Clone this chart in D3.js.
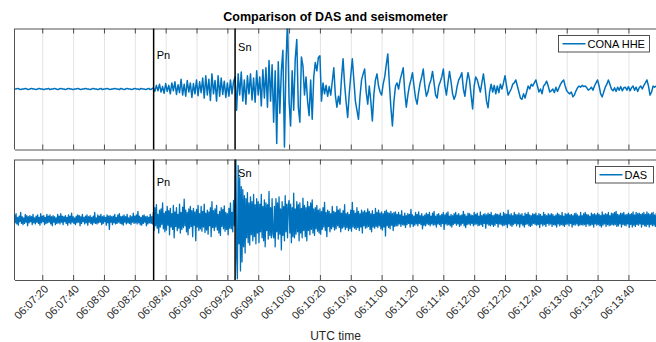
<!DOCTYPE html>
<html>
<head>
<meta charset="utf-8">
<script src="https://cdn.jsdelivr.net/npm/d3@7"></script>
<style>
  html, body { margin: 0; padding: 0; background: #fff; }
  svg { display: block; font-family: 'Liberation Sans', Arial, sans-serif; }
</style>
</head>
<body>
<div id="chart"></div>
<script>
// --- data (amplitude normalised to +-100 of the panel half height) ---
const traceStart = '06:07:02';
const seisStep = 1;   // seconds between seismometer samples
const dasStep = 0.5;  // seconds between DAS samples

const seisValues = [
  // 06:07:02 .. 06:08:31 (quiet)
  0,0,1,0,-1,0,0,1,0,-1, 0,1,0,0,-1,0,1,0,0,-1, 0,0,1,-1,0,0,1,0,-1,0,
  1,0,0,-1,0,1,0,0,-1,0, 0,1,0,-1,0,0,1,0,0,-1, 0,1,0,0,-1,0,1,-1,0,0,
  1,0,-1,0,0,1,0,0,-1,1, 0,-1,0,1,0,0,-1,0,1,0, 0,-1,1,0,0,-1,0,1,-1,0,
  // Pn coda
  2,-4,6,-3,8,-5,4,-7,9,-4, 6,-8,10,-3,12,-9,7,-6,16,-10, 8,-12,14,-5,10,-14,9,-8,15,-11,
  12,-6,18,-15,22,-10,16,-19,25,-8, 14,-20,22,-12,18,-9,13,-14,10,-12, 15,-8,12,
  // Sn and coda
  20,-35,25,-10,28,-20,15,-25,22,-8, 25,-18,18,-22,30,-10,20,-28,32,-15,
  35,-30,47,-20,40,-55,30,-90,45,-40, 30,64,-96,40,115,-20,-61,30,-35,50,82,
  -30,-55,53,38,-10,20,-20,-44,15,-50,20,44,30,52,55,-20,
  10,-8,6,-12,4,-10,12,35,-10,-30, -12,-25,18,50,8,-22,-47,-8,22,50,
  15,-20,-35,-50,-12,15,25,33,-5,-25, 5,-20,-53,-8,15,25,5,-5,-10,8,
  20,40,58,10,-30,-61,-20,5,10,0, 15,25,35,-5,-30,-10,5,15,27,5,
  -15,-25,-5,10,20,33,5,-12,-5,8, 15,29,10,-10,-15,5,12,20,33,5,
  -10,10,29,12,-8,-17,-10,5,15,20, 27,0,-12,10,27,15,-10,-33,5,20,
  15,5,-5,10,25,5,-20,-31,-5,8, -5,6,-8,5,-6,8,0,10,22,5,
  -10,-5,0,8,10,15,5,-5,-15,-17, -8,-15,-5,5,0,8,5,10,15,5,
  -5,0,-8,5,8,13,5,-5,-3,0, -6,3,-4,2,8,12,15,5,-3,-6,
  -8,-5,-13,-10,-3,2,5,3,6,4, 5,2,-2,0,3,-2,5,10,15,5,
  -8,-13,-5,3,8,15,8,0,-3,2, -4,3,-2,4,-3,2,3,-2,4,-3,
  2,5,-2,3,-4,2,5,0,6,10, 15,5,-10,-5,5,3,5,2
];

const dasValues = [
  // pre-event noise
  8,-5,10,-7,4,-9,6,-3,12,-6,5,-8,3,-6,9,-4,7,-10,5,-5,
  7,-3,5,-8,9,-5,3,-7,6,-4,8,-6,4,-9,10,-5,6,-3,7,-8,
  4,-6,9,-5,6,-4,8,-7,5,-10,7,-4,5,-8,3,-6,9,-5,6,-7,
  10,-4,6,-8,5,-3,7,-6,4,-9,8,-5,6,-7,11,-4,5,-6,3,-8,
  6,-5,8,-4,7,-10,5,-6,9,-3,4,-7,6,-5,8,-9,5,-4,7,-6,
  4,-8,6,-5,12,-6,3,-7,8,-5,6,-4,9,-8,5,-6,7,-3,4,-9,
  8,-5,6,-16,7,-4,5,-8,6,-5,9,-7,4,-6,8,-4,10,-6,5,-7,
  6,-9,8,-4,5,-7,9,-5,3,-6,7,-8,5,-4,11,-6,6,-5,8,-7,
  14,-5,6,-8,4,-9,7,-6,8,-4,5,-10,6,-7,4,-5,9,-6,5,-7,
  // Pn coda
  12,-18,20,-10,25,-14,9,-22,16,-12,18,-8,28,-15,11,-20,14,-17,22,-9,
  15,-25,19,-12,10,-16,24,-30,13,-11,20,-18,9,-14,26,-22,12,-16,21,-13,
  34,-10,16,-20,12,-25,18,-14,22,-11,15,-28,19,-9,13,-35,17,-12,24,-18,
  10,-15,22,-19,14,-12,26,-21,11,-17,16,-24,13,-10,20,-28,30,-13,15,-18,
  18,-12,24,-17,9,-22,14,-26,20,-11,17,-15,23,-19,12,-16,10,-25,19,-14,
  28,-15,12,-20,32,-10,
  // Sn
  30,115,-60,-98,90,-40,70,-85,55,-70,
  50,-45,40,-55,35,-30,45,-38,28,-42,38,-25,30,-35,42,-28,25,-40,35,-22,
  30,-38,26,-20,42,-30,22,-35,33,-45,28,-18,25,-32,47,-26,20,-30,35,-24,
  -30,22,-45,35,-20,28,-32,38,-24,18,-50,30,-26,22,-35,40,-20,26,-30,24,
  32,-22,26,-38,20,-28,44,-30,18,-24,30,-20,25,-35,28,-22,19,-30,36,-18,
  24,-28,20,-35,30,-18,22,-25,28,-16,33,-22,18,-26,20,-15,24,-19,16,-22,
  18,-24,14,-16,20,-12,29,-18,12,-28,16,-11,14,-20,10,-15,22,-12,14,-17,
  12,-15,22,-10,16,-13,18,-20,11,-14,15,-12,25,-16,10,-13,12,-18,9,-15,
  16,-19,29,-12,15,-14,11,-16,20,-13,14,-18,10,-12,16,-22,13,-10,15,-14,
  12,-13,18,-11,14,-16,10,-20,15,-12,9,-14,19,-11,12,-13,16,-10,11,-15,
  13,-17,10,-12,14,-27,16,-10,12,-13,11,-15,14,-9,10,-18,12,-11,13,-10,
  // late coda
  9,-10,12,-7,8,-11,15,-8,6,-9,11,-13,7,-8,10,-6,9,-12,17,-7,
  8,-11,6,-9,12,-7,9,-10,13,-6,7,-8,10,-15,6,-9,8,-10,11,-7,
  9,-8,12,-10,6,-7,11,-9,14,-8,6,-12,9,-7,10,-8,7,-11,9,-6,
  12,-16,8,-7,11,-9,13,-8,6,-10,9,-12,7,-8,10,-6,12,-9,8,-7,
  10,-11,7,-9,8,-6,14,-10,9,-13,6,-8,11,-7,10,-9,8,-6,7,-10,
  12,-8,9,-7,11,-10,6,-9,13,-8,7,-11,9,-6,10,-14,8,-7,11,-9,
  9,-10,12,-8,7,-11,8,-9,10,-6,9,-12,8,-7,11,-8,6,-10,12,-9,
  10,-8,9,-13,16,-7,8,-9,10,-11,7,-8,12,-6,9,-10,8,-7,11,-12,
  8,-7,10,-9,6,-12,11,-8,9,-7,12,-10,8,-11,7,-9,10,-6,9,-8,
  11,-9,7,-8,10,-13,9,-7,6,-10,12,-8,9,-11,7,-6,10,-9,8,-7,
  10,-11,9,-8,6,-9,8,-12,11,-7,9,-10,7,-8,12,-9,6,-11,10,-8,
  9,-7,11,-10,8,-6,9,-12,7,-8,10,-9,11,-7,8,-10,6,-9,12,-8,
  7,-9,10,-8,12,-11,9,-7,8,-10,6,-9,11,-8,9,-12,10,-7,8,-9,
  11,-8,9,-10,7,-12,13,-9,8,-7,10,-11,9,-8,12,-10,7,-9,11,-8,
  10,-9,12,-8,14,-11,9,-10,8,-7,11,-12,10,-8,12,-9,8,-10,9,-7,
  11,-13,9,-8,10,-12,13,-9,8,-11,12,-8,10,-9,11,-7,9,-12,10,-8,
  12,-10,9,-11,13,-8,10,-12,9,-8,11,-10,12,-9,8,-11,10,-9,12,-8
];

const tickLabels = ['06:07:20','06:07:40','06:08:00','06:08:20','06:08:40','06:09:00','06:09:20',
  '06:09:40','06:10:00','06:10:20','06:10:40','06:11:00','06:11:20','06:11:40','06:12:00',
  '06:12:20','06:12:40','06:13:00','06:13:20','06:13:40'];

const phaseNames = ['Pn', 'Sn'];
const phaseTimes = ['06:08:32.2', '06:09:25'];
const legendNames = ['CONA HHE', 'DAS'];

const axisStart = '06:07:02';
const axisEnd = '06:13:58.2';

// --- helpers ---
const toDate = (s) => {
  const [h, m, sec] = s.split(':');
  return new Date(Date.UTC(2020, 0, 1, +h, +m, 0) + (+sec) * 1000);
};
const t0 = toDate(traceStart);

const width = 656, height = 342;
const blue = '#0072BD';
const axisColor = '#262626';

const svg = d3.select('#chart').append('svg')
  .attr('width', width)
  .attr('height', height);

svg.append('rect').attr('width', width).attr('height', height).attr('fill', '#fff');

const x = d3.scaleUtc()
  .domain([toDate(axisStart), toDate(axisEnd)])
  .range([14.5, 656.5]);

const tickDates = tickLabels.map(toDate);

const panels = [
  {top: 28.5, bottom: 149.5, values: seisValues, step: seisStep, lw: 1.5, legend: legendNames[0],
    legendBox: {x: 558.5, y: 35.5, w: 91, h: 16.5}, labelY: [49, 62]},
  {top: 159.5, bottom: 280, values: dasValues, step: dasStep, lw: 1.3, legend: legendNames[1],
    legendBox: {x: 595.5, y: 166.5, w: 58, h: 16.5}, labelY: [56, 71]}
];

panels.forEach((p, k) => {
  const y = d3.scaleLinear().domain([-100, 100]).range([p.bottom, p.top]);
  const g = svg.append('g');
  const clipId = 'clip' + k;

  svg.append('clipPath').attr('id', clipId)
    .append('rect')
    .attr('x', x.range()[0]).attr('y', p.top)
    .attr('width', x.range()[1] - x.range()[0]).attr('height', p.bottom - p.top);

  // grid
  g.append('g')
    .attr('transform', `translate(0,${p.bottom})`)
    .call(d3.axisBottom(x).tickValues(tickDates).tickSize(-(p.bottom - p.top)).tickFormat(''))
    .call(a => a.select('.domain').remove())
    .call(a => a.selectAll('line').attr('stroke', '#e3e3e3').attr('stroke-width', 1));

  // trace
  const line = d3.line()
    .x((d, i) => x(new Date(t0.getTime() + i * p.step * 1000)))
    .y(d => y(d));

  g.append('path')
    .datum(p.values)
    .attr('clip-path', `url(#${clipId})`)
    .attr('fill', 'none')
    .attr('stroke', blue)
    .attr('stroke-width', p.lw)
    .attr('stroke-linejoin', 'round')
    .attr('d', line);

  // phase picks
  phaseTimes.forEach((pt, j) => {
    const px = x(toDate(pt));
    g.append('line')
      .attr('x1', px).attr('x2', px)
      .attr('y1', p.top).attr('y2', p.bottom)
      .attr('stroke', '#000').attr('stroke-width', 1.5);
    g.append('text')
      .attr('x', px + 3)
      .attr('y', y(p.labelY[j]))
      .attr('font-size', 11)
      .attr('fill', '#000')
      .text(phaseNames[j]);
  });

  // box + inward ticks
  g.append('g')
    .attr('transform', `translate(0,${p.bottom})`)
    .call(d3.axisBottom(x).tickValues(tickDates).tickSize(-5).tickFormat('').tickSizeOuter(0))
    .call(a => a.selectAll('line,path').attr('stroke', axisColor).attr('stroke-width', 0.8));
  g.append('g')
    .attr('transform', `translate(0,${p.top})`)
    .call(d3.axisTop(x).tickValues(tickDates).tickSize(-5).tickFormat('').tickSizeOuter(0))
    .call(a => a.selectAll('line,path').attr('stroke', axisColor).attr('stroke-width', 0.8));
  g.append('line')
    .attr('x1', x.range()[0]).attr('x2', x.range()[0])
    .attr('y1', p.top).attr('y2', p.bottom)
    .attr('stroke', axisColor).attr('stroke-width', 0.8);

  // legend
  const lb = p.legendBox;
  const lg = g.append('g');
  lg.append('rect')
    .attr('x', lb.x).attr('y', lb.y).attr('width', lb.w).attr('height', lb.h)
    .attr('fill', '#fff').attr('stroke', axisColor).attr('stroke-width', 0.8);
  lg.append('line')
    .attr('x1', lb.x + 4).attr('x2', lb.x + 27)
    .attr('y1', lb.y + lb.h / 2).attr('y2', lb.y + lb.h / 2)
    .attr('stroke', blue).attr('stroke-width', 1.5);
  lg.append('text')
    .attr('x', lb.x + 29)
    .attr('y', lb.y + lb.h / 2 + 4)
    .attr('font-size', 11)
    .attr('fill', '#000')
    .text(p.legend);
});

// x tick labels (bottom panel only)
svg.append('g')
  .selectAll('text')
  .data(tickDates)
  .join('text')
  .attr('transform', d => `translate(${x(d) + 4},${287}) rotate(-45)`)
  .attr('text-anchor', 'end')
  .attr('dy', '0.35em')
  .attr('font-size', 11)
  .attr('fill', axisColor)
  .text(d => d3.utcFormat('%H:%M:%S')(d));

svg.append('text')
  .attr('x', 335.5).attr('y', 340)
  .attr('text-anchor', 'middle')
  .attr('font-size', 12)
  .attr('fill', axisColor)
  .text('UTC time');

svg.append('text')
  .attr('x', 335.5).attr('y', 21)
  .attr('text-anchor', 'middle')
  .attr('font-size', 12.5)
  .attr('font-weight', 'bold')
  .attr('fill', '#000')
  .text('Comparison of DAS and seismometer');
</script>
</body>
</html>
